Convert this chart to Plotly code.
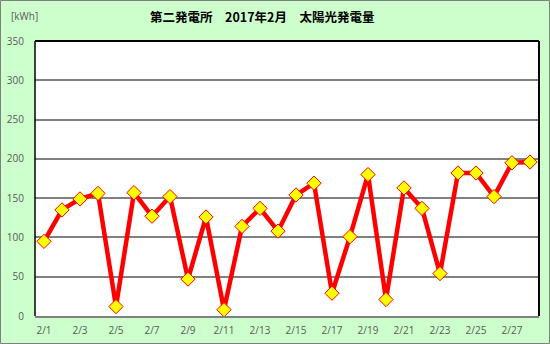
import plotly.graph_objects as go

days = [f"2/{d}" for d in range(1, 29)]
kwh = [95, 135, 149, 156, 12, 157, 127, 152, 47, 126, 8, 114, 137, 108,
       154, 169, 29, 101, 180, 21, 163, 137, 54, 182, 182, 152, 195, 196]
tick_labels = [f"2/{d}" for d in range(1, 29, 2)]
title_text = "第二発電所　2017年2月　太陽光発電量"
unit_text = "[kWh]"

W, H = 550, 344
L, R, T, B = 35, 11, 41, 28
pw, ph = W - L - R, H - T - B

def px(x):
    return (x - L) / pw

def py(y):
    return (H - B - y) / ph

fig = go.Figure()
fig.add_trace(go.Scatter(
    x=days, y=kwh, mode="lines+markers",
    line=dict(color="#FF0000", width=4.5),
    marker=dict(symbol="diamond", size=11, color="#FFFF00",
                line=dict(color="#FF0000", width=1)),
    cliponaxis=False,
))

fig.update_layout(
    width=W, height=H,
    margin=dict(l=L, r=R, t=T, b=B, autoexpand=False),
    paper_bgcolor="#CCFFCC",
    plot_bgcolor="#FFFFFF",
    showlegend=False,
    font=dict(family="Open Sans, Noto Sans CJK JP", color="#595959", size=10),
    xaxis=dict(
        type="category", range=[-0.5, 27.5], automargin=False,
        tickmode="array", tickvals=tick_labels, ticktext=tick_labels,
        showgrid=False, showline=True, linecolor="#808080", linewidth=2,
        ticks="", tickfont=dict(size=10, color="#595959"),
        ticklabelstandoff=4,
        fixedrange=True,
    ),
    yaxis=dict(
        range=[0, 350], dtick=50, showgrid=True, gridcolor="#808080",
        gridwidth=2, zeroline=False, showline=False, ticks="", automargin=False,
        tickfont=dict(size=10, color="#595959"), ticklabelstandoff=10,
        fixedrange=True,
    ),
    annotations=[
        dict(text=title_text, xref="paper", yref="paper",
             x=px(262), y=py(16), xanchor="center", yanchor="middle",
             showarrow=False,
             font=dict(family="Noto Sans CJK JP", size=12.5, color="#000000", weight="bold")),
        dict(text=unit_text, xref="paper", yref="paper",
             x=px(9), y=py(16), xanchor="left", yanchor="middle",
             showarrow=False,
             font=dict(family="Open Sans", size=10, color="#595959")),
    ],
    shapes=[
        dict(type="line", xref="paper", yref="paper", x0=0, x1=1, y0=1, y1=1,
             line=dict(color="#000000", width=2)),
        dict(type="line", xref="paper", yref="paper", x0=0, x1=0, y0=0, y1=1,
             line=dict(color="#000000", width=1.5)),
        dict(type="line", xref="paper", yref="paper", x0=1, x1=1, y0=0, y1=1,
             line=dict(color="#000000", width=2)),
        dict(type="rect", xref="paper", yref="paper",
             x0=px(0.5), x1=px(W - 0.5), y0=py(H - 0.5), y1=py(0.5),
             line=dict(color="#808080", width=1), layer="below"),
    ],
)

fig.write_html("out.html")
